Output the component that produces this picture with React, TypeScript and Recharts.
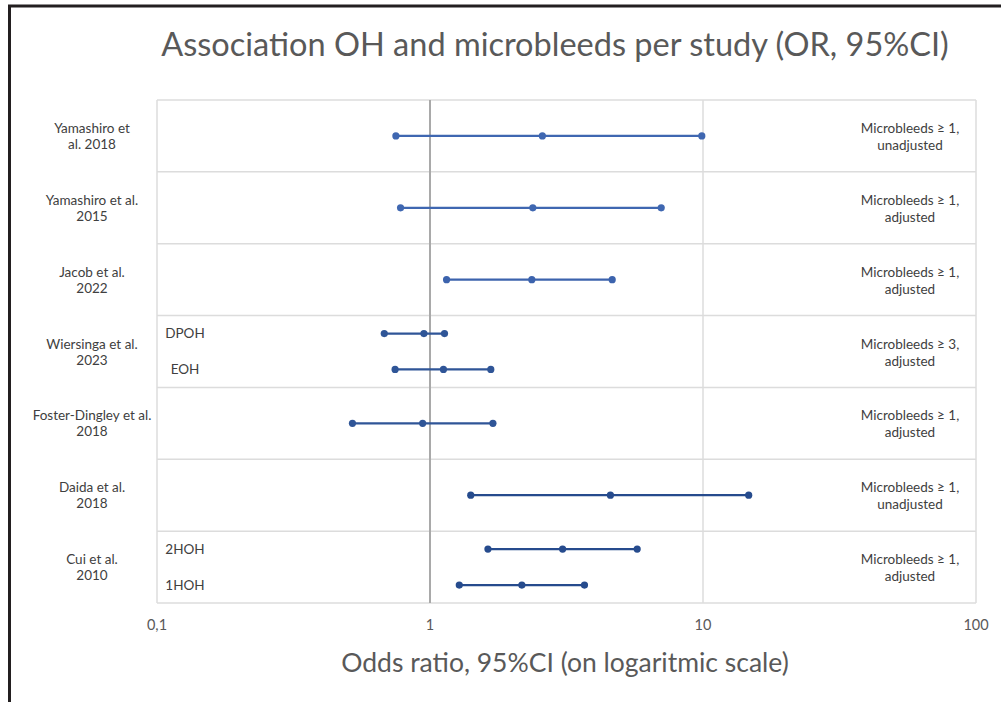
import React from 'react';
import { ComposedChart, Scatter, XAxis, YAxis, ReferenceLine } from 'recharts';

// ---- data ----
const studyLines: string[][] = [
  ['Yamashiro et', 'al. 2018'],
  ['Yamashiro et al.', '2015'],
  ['Jacob et al.', '2022'],
  ['Wiersinga et al.', '2023'],
  ['Foster-Dingley et al.', '2018'],
  ['Daida et al.', '2018'],
  ['Cui et al.', '2010'],
];
const studyRows = [0.5, 1.5, 2.5, 3.5, 4.5, 5.5, 6.5];
const outcomeLines: string[][] = [
  ['Microbleeds \u2265 1,', 'unadjusted'],
  ['Microbleeds \u2265 1,', 'adjusted'],
  ['Microbleeds \u2265 1,', 'adjusted'],
  ['Microbleeds \u2265 3,', 'adjusted'],
  ['Microbleeds \u2265 1,', 'adjusted'],
  ['Microbleeds \u2265 1,', 'unadjusted'],
  ['Microbleeds \u2265 1,', 'adjusted'],
];
const seriesNames = [
  'Yamashiro 2018', 'Yamashiro 2015', 'Jacob 2022', 'Wiersinga DPOH', 'Wiersinga EOH',
  'Foster-Dingley 2018', 'Daida 2018', 'Cui 2HOH', 'Cui 1HOH',
];
const seriesRow = [0.5, 1.5, 2.5, 3.25, 3.75, 4.5, 5.5, 6.25, 6.75];
const lower = [0.75, 0.78, 1.15, 0.68, 0.745, 0.52, 1.41, 1.63, 1.28];
const estimate = [2.58, 2.38, 2.36, 0.95, 1.12, 0.94, 4.58, 3.06, 2.17];
const upper = [9.9, 7.03, 4.65, 1.13, 1.67, 1.7, 14.7, 5.74, 3.68];
const seriesColors = ['#3f67b1', '#3f67b1', '#3c63ad', '#2f5597', '#2f5597', '#2f5597', '#264b8d', '#264b8d', '#264b8d'];
const subLabels = ['DPOH', 'EOH', '2HOH', '1HOH'];
const subLabelRows = [3.25, 3.75, 6.25, 6.75];
const xTicks = [0.1, 1, 10, 100];
const rowBounds = [0, 1, 2, 3, 4, 5, 6, 7];
const lightVerticals = [0.1, 10, 100];

const FONT = 'Lato, "Open Sans", sans-serif';
const TEXT = '#404040';

const seriesData = seriesNames.map((name, i) => ({
  name,
  color: seriesColors[i],
  points: [
    { x: lower[i], y: seriesRow[i] },
    { x: estimate[i], y: seriesRow[i] },
    { x: upper[i], y: seriesRow[i] },
  ],
}));
const subLabelData = subLabels.map((label, i) => ({ x: xTicks[0], y: subLabelRows[i], label }));
const outcomeData = studyRows.map((y, i) => ({ x: xTicks[xTicks.length - 1], y, lines: outcomeLines[i] }));

const LeftTick = (props: any) => {
  const { x, y, payload } = props;
  const idx = studyRows.indexOf(payload.value);
  const lines = studyLines[idx] || ['', ''];
  const cx = x - 65;
  return (
    <text textAnchor="middle" fontSize={13.5} fill={TEXT} fontFamily={FONT}>
      <tspan x={cx} y={y - 3}>{lines[0]}</tspan>
      <tspan x={cx} y={y + 13}>{lines[1]}</tspan>
    </text>
  );
};

const outcomeShape = (p: any) => {
  const cx = p.cx - 66;
  return (
    <text textAnchor="middle" fontSize={13.5} fill={TEXT} fontFamily={FONT}>
      <tspan x={cx} y={p.cy - 3}>{p.payload.lines[0]}</tspan>
      <tspan x={cx} y={p.cy + 14}>{p.payload.lines[1]}</tspan>
    </text>
  );
};

const dotShape = (color: string) => (p: any) => (
  <circle cx={p.cx} cy={p.cy} r={3.6} fill={color} stroke="none" />
);

const subLabelShape = (p: any) => (
  <text x={p.cx + 28} y={p.cy + 4.5} textAnchor="middle" fontSize={13.5} fill={TEXT} fontFamily={FONT}>
    {p.payload.label}
  </text>
);

export default function App() {
  return (
    <div style={{ position: 'absolute', left: 0, top: 0, width: 1001, height: 702, background: '#fff' }}>
      <ComposedChart
        width={1001}
        height={702}
        margin={{ top: 100, right: 25, bottom: 39, left: 0 }}
      >
        <XAxis
          dataKey="x"
          type="number"
          scale="log"
          domain={[0.1, 100]}
          ticks={xTicks}
          allowDataOverflow
          interval={0}
          height={60}
          axisLine={false}
          tickLine={false}
          tickSize={0}
          tickMargin={17}
          tick={{ fontSize: 14.5, fill: '#595959', fontFamily: FONT }}
          tickFormatter={(v: number) => String(v).replace('.', ',')}
        />
        <YAxis
          yAxisId="left"
          dataKey="y"
          type="number"
          domain={[0, 7]}
          reversed
          ticks={studyRows}
          interval={0}
          width={157}
          axisLine={false}
          tickLine={false}
          tickSize={0}
          tickMargin={0}
          tick={<LeftTick />}
        />
        {rowBounds.map((r) => (
          <ReferenceLine key={'h' + r} yAxisId="left" y={r} stroke="#dcdcdc" strokeWidth={1.5} />
        ))}
        {lightVerticals.map((v) => (
          <ReferenceLine key={'v' + v} yAxisId="left" x={v} stroke="#dcdcdc" strokeWidth={1.5} />
        ))}
        <ReferenceLine yAxisId="left" x={1} stroke="#a9a9a9" strokeWidth={2} />
        {seriesData.map((s) => (
          <Scatter
            key={s.name}
            name={s.name}
            yAxisId="left"
            data={s.points}
            line={{ stroke: s.color, strokeWidth: 2.2 }}
            lineType="joint"
            fill={s.color}
            shape={dotShape(s.color)}
            isAnimationActive={false}
          />
        ))}
        <Scatter
          name="subgroups"
          yAxisId="left"
          data={subLabelData}
          shape={subLabelShape}
          isAnimationActive={false}
        />
        <Scatter
          name="outcomes"
          yAxisId="left"
          data={outcomeData}
          shape={outcomeShape}
          isAnimationActive={false}
        />
      </ComposedChart>
      <svg
        width={1001}
        height={702}
        style={{ position: 'absolute', left: 0, top: 0, pointerEvents: 'none' }}
      >
        <line x1={8} y1={6} x2={1001} y2={6} stroke="#231f20" strokeWidth={3} />
        <line x1={9.5} y1={5} x2={9.5} y2={702} stroke="#231f20" strokeWidth={3} />
        <text x={555} y={56} textAnchor="middle" fontSize={32.5} fill="#595959" fontFamily={FONT}>
          Association OH and microbleeds per study (OR, 95%CI)
        </text>
        <text x={565} y={672} textAnchor="middle" fontSize={26.5} fill="#595959" fontFamily={FONT}>
          Odds ratio, 95%CI (on logaritmic scale)
        </text>
      </svg>
    </div>
  );
}
